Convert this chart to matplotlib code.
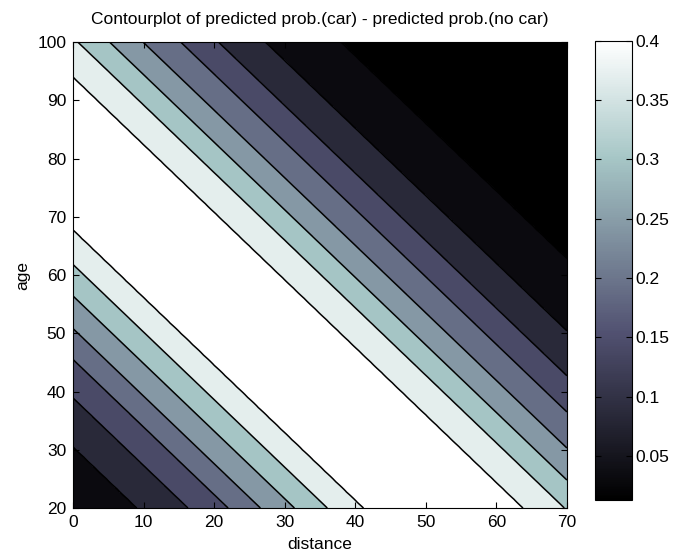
import numpy as np
import matplotlib.pyplot as plt
from matplotlib import colors as mcolors

plt.rcParams['font.family'] = ['Liberation Sans', 'DejaVu Sans']

# Contour levels (one per line drawn) and the colour range of the colorbar
levels = [0.056, 0.099, 0.142, 0.185, 0.228, 0.271, 0.314, 0.357]
z_min, z_max = 0.013, 0.40

# Lines are parallel: age drops by ~1.16 for every unit of distance
slope = 1.16

# Where each level line crosses distance = 0 (age, extrapolated above 100)
# lower side (bottom-left), going up in value
age0_low = [30.5, 38.9, 45.5, 50.8, 56.4, 61.8, 67.7]
# upper side (top-right), going down in value
age0_high = [94.0, 100.8, 106.0, 111.5, 117.7, 123.9, 131.6, 144.0]

# values at the corners of the plot and at the ridge (white band)
z_corner_low, z_ridge, z_corner_high = 0.075, 0.40, z_min
age0_ridge = 81.0

dist_range = (0, 70)
age_range = (20, 100)

# profile along the diagonal coordinate u = age + slope * distance
u_lo = age_range[0]
u_hi = age_range[1] + slope * dist_range[1]
u_knots = [u_lo] + age0_low + [age0_ridge] + age0_high + [u_hi]
z_knots = ([z_corner_low] + levels[1:] + [z_ridge]
           + levels[::-1] + [z_corner_high])

distance = np.linspace(*dist_range, 281)
age = np.linspace(*age_range, 321)
D, A = np.meshgrid(distance, age)
Z = np.interp(A + slope * D, u_knots, z_knots)

# figure
fig = plt.figure(figsize=(6.83, 5.54), dpi=100)
ax = fig.add_axes([0.107, 0.083, 0.723, 0.841])

# band colours taken along the bone map (darkest to white)
bone = plt.get_cmap('bone')
band_pos = [0.0, 0.05, 0.185, 0.335, 0.46, 0.595, 0.74, 0.92, 1.0]
band_colors = [bone(p) for p in band_pos]
bounds = [z_min - 1] + levels + [z_max + 1]
ax.contourf(D, A, Z, levels=bounds, colors=band_colors)
ax.contour(D, A, Z, levels=levels, colors='k', linewidths=1.1)

ax.set_xlim(dist_range)
ax.set_ylim(age_range)
ax.set_xticks(range(0, 71, 10))
ax.set_yticks(range(20, 101, 10))
ax.tick_params(direction='in', top=True, right=True, length=4,
               labelsize=12.5, pad=5)
ax.set_xlabel('distance', fontsize=12.5, labelpad=5)
ax.set_ylabel('age', fontsize=12.5, labelpad=5)
ax.set_title('Contourplot of predicted prob.(car) - predicted prob.(no car)',
             fontsize=12.5, pad=13)

# continuous colorbar on the right
cax = fig.add_axes([0.871, 0.0975, 0.055, 0.829])
sm = plt.cm.ScalarMappable(norm=mcolors.Normalize(z_min, z_max), cmap=bone)
cb = fig.colorbar(sm, cax=cax)
cb.set_ticks([0.05, 0.1, 0.15, 0.2, 0.25, 0.3, 0.35, 0.4])
cb.set_ticklabels(['0.05', '0.1', '0.15', '0.2', '0.25', '0.3', '0.35', '0.4'])
cax.tick_params(direction='in', left=True, right=True, length=4,
                labelsize=12.5, pad=2)
cb.outline.set_linewidth(0.8)

plt.savefig('out.png', dpi=100)
